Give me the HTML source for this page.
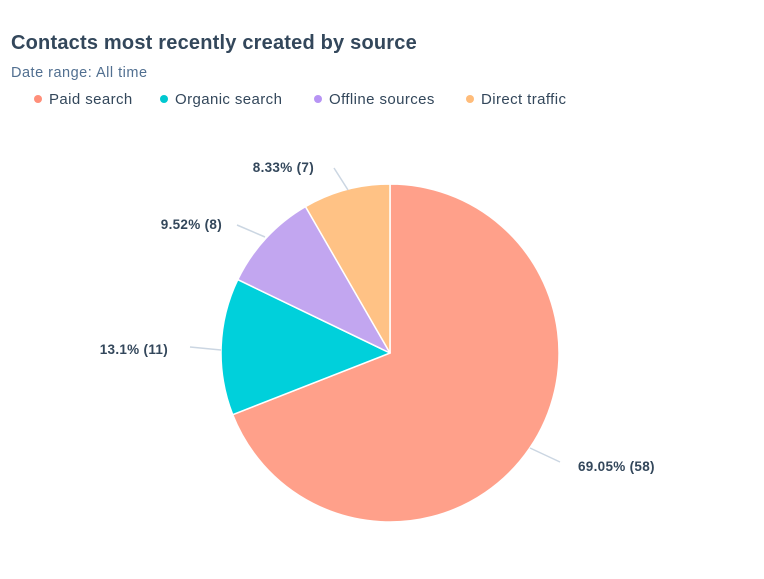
<!DOCTYPE html>
<html><head><style>
body{margin:0;background:#fff;width:764px;height:579px;overflow:hidden;font-family:"Liberation Sans",sans-serif}
.t{position:absolute;left:11px;top:32px;font-size:20px;font-weight:bold;color:#33475b;letter-spacing:0.2px}
.d{position:absolute;left:11px;top:65px;font-size:14.5px;color:#516f90;letter-spacing:0.5px}
.lg{position:absolute;top:91px;font-size:15px;color:#33475b;letter-spacing:0.4px}
.lg i{display:inline-block;width:8px;height:8px;border-radius:50%;margin-right:7px;vertical-align:1px}
</style></head><body>
<div class="t">Contacts most recently created by source</div>
<div class="d">Date range: All time</div>
<div class="lg" style="left:34px"><i style="background:#ff8f7a"></i>Paid search</div>
<div class="lg" style="left:160px"><i style="background:#00c8d0"></i>Organic search</div>
<div class="lg" style="left:314px"><i style="background:#b794f4"></i>Offline sources</div>
<div class="lg" style="left:466px"><i style="background:#ffbc7a"></i>Direct traffic</div>
<svg width="764" height="579" style="position:absolute;left:0;top:0">
<g stroke="#fff" stroke-width="1.5" stroke-linejoin="round">
<path d="M390,353 L390,184 A169,169 0 1 1 232.7,414.7 Z" fill="#ffa08a"/>
<path d="M390,353 L232.7,414.7 A169,169 0 0 1 237.8,279.6 Z" fill="#00d0db"/>
<path d="M390,353 L237.8,279.6 A169,169 0 0 1 305.5,206.6 Z" fill="#c2a6f0"/>
<path d="M390,353 L305.5,206.6 A169,169 0 0 1 390,184 Z" fill="#ffc285"/>
</g>
<g stroke="#cbd6e2" stroke-width="1.5" fill="none">
<path d="M530,448 L560,462"/>
<path d="M190,347 L221,350"/>
<path d="M237,225 L265,237"/>
<path d="M334,168 L348,190"/>
</g>
<g font-size="13.5" font-weight="bold" fill="#33475b" letter-spacing="0.3">
<text x="578" y="471">69.05% (58)</text>
<text x="168" y="354" text-anchor="end">13.1% (11)</text>
<text x="222" y="229" text-anchor="end">9.52% (8)</text>
<text x="314" y="172" text-anchor="end">8.33% (7)</text>
</g>
</svg>
</body></html>
